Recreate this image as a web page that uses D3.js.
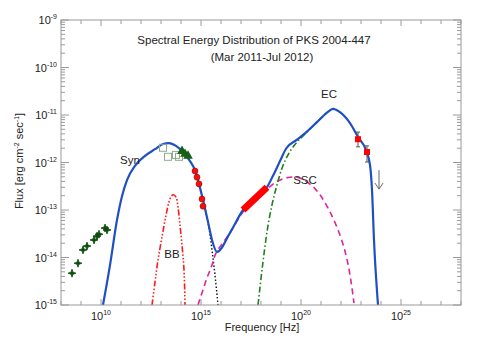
<!DOCTYPE html>
<html>
<head>
<meta charset="utf-8">
<script src="https://cdn.jsdelivr.net/npm/d3@7"></script>
<style>
  body { margin: 0; background: #fff; }
  svg text { font-family: "Liberation Sans", Arial, Helvetica, sans-serif; fill: #222; }
</style>
</head>
<body>
<div id="wrapper"></div>
<script>
// data, as [log10 nu (Hz), log10 flux (erg cm^-2 s^-1)]
const totalModel = [
  [10.10, -15.0], [10.45, -14.16], [10.80, -13.21], [11.05, -12.71], [11.30, -12.37],
  [11.70, -12.07], [12.20, -11.86], [12.70, -11.72], [13.10, -11.61], [13.40, -11.59],
  [13.75, -11.65], [14.10, -11.78], [14.45, -11.97], [14.70, -12.16], [14.90, -12.45],
  [15.10, -12.79], [15.35, -13.25], [15.55, -13.63], [15.80, -13.88], [16.45, -13.48],
  [17.10, -13.00], [17.70, -12.73], [18.30, -12.52], [18.60, -12.28], [18.95, -11.97],
  [19.25, -11.71], [19.80, -11.52], [20.30, -11.35], [20.80, -11.15], [21.30, -10.95],
  [21.60, -10.87], [21.95, -10.94], [22.45, -11.17], [22.85, -11.46], [23.25, -11.74],
  [23.45, -12.05], [23.55, -12.58], [23.65, -13.63], [23.85, -15.0]
];
const sscModel = [
  [14.85, -15.0], [15.10, -14.68], [15.30, -14.43], [15.55, -14.16], [15.75, -13.91],
  [16.45, -13.48], [17.10, -13.04], [17.70, -12.77], [18.30, -12.56], [18.85, -12.39],
  [19.45, -12.31], [19.95, -12.33], [20.55, -12.49], [20.95, -12.68], [21.45, -13.04],
  [21.95, -13.53], [22.25, -13.95], [22.45, -14.37], [22.65, -14.96]
];
const ecModel = [
  [17.85, -15.0], [18.10, -14.09], [18.30, -13.46], [18.55, -12.89], [18.80, -12.47],
  [19.05, -12.12], [19.35, -11.84], [19.70, -11.62], [20.20, -11.40], [20.80, -11.15],
  [21.30, -10.95]
];
const bbModel = [
  [12.55, -15.0], [12.70, -14.52], [12.85, -14.05], [13.05, -13.57], [13.25, -13.11],
  [13.45, -12.77], [13.60, -12.68], [13.75, -12.73], [13.85, -12.94], [13.95, -13.32],
  [14.05, -13.74], [14.15, -14.26], [14.20, -15.0]
];
const synTail = [
  [15.10, -12.79], [15.20, -12.96], [15.40, -13.38], [15.55, -13.84], [15.70, -14.37], [15.85, -15.0]
];
const radioPoints = [
  [8.55, -14.33], [8.85, -14.12], [9.10, -13.84], [9.30, -13.76], [9.65, -13.63],
  [9.80, -13.55], [9.90, -13.51], [10.20, -13.38], [10.30, -13.42]
];
const irOpen = [[13.10, -11.69], [13.35, -11.88], [13.75, -11.84], [13.90, -11.88]];
const irTriangles = [[14.05, -11.76], [14.20, -11.82], [14.35, -11.86]];
const optUV = [[14.70, -12.18], [14.80, -12.31], [14.90, -12.45], [15.05, -12.77], [15.10, -12.92]];
const xrayBand = [[17.10, -13.00], [18.30, -12.52]];
const fermi = [
  { nu: 22.85, f: -11.51, lo: -11.67, hi: -11.36 },
  { nu: 23.30, f: -11.78, lo: -11.99, hi: -11.65 }
];
const upperLimit = { nu: 23.90, from: -12.16, to: -12.56 };
const labels = [
  { text: "Syn", nu: 11.45, f: -11.95 },
  { text: "BB", nu: 13.55, f: -13.92 },
  { text: "SSC", nu: 20.20, f: -12.37 },
  { text: "EC", nu: 21.40, f: -10.55 }
];
const yExponents = [-9, -10, -11, -12, -13, -14, -15];
const xExponents = [10, 15, 20, 25];

// layout
const width = 480, height = 343;
const margin = { top: 20, right: 19, bottom: 38, left: 61 };
const axisColor = "#9a9a9a";

const svg = d3.select("#wrapper").append("svg")
  .attr("width", width).attr("height", height);

const x = d3.scaleLog().domain([1e8, 1e28]).range([margin.left, width - margin.right]);
const y = d3.scaleLog().domain([1e-15, 1e-9]).range([height - margin.bottom, margin.top]);
const px = d => x(Math.pow(10, d[0]));
const py = d => y(Math.pow(10, d[1]));

const plot = svg.append("g");

// axes box
const x0 = x.range()[0], x1 = x.range()[1], y0 = y.range()[0], y1 = y.range()[1];
const axes = svg.append("g").attr("stroke", axisColor).attr("fill", "none");
axes.append("rect").attr("x", x0).attr("y", y1).attr("width", x1 - x0).attr("height", y0 - y1);

// y ticks (major + log minor) on left and right
const yTicks = [];
for (let e = -15; e < -9; e++) {
  for (let m = 1; m < 10; m++) yTicks.push({ v: m * Math.pow(10, e), major: m === 1 });
}
yTicks.push({ v: 1e-9, major: true });
yTicks.forEach(t => {
  const len = t.major ? 8 : 4;
  axes.append("line").attr("x1", x0).attr("x2", x0 + len).attr("y1", y(t.v)).attr("y2", y(t.v));
  axes.append("line").attr("x1", x1).attr("x2", x1 - len).attr("y1", y(t.v)).attr("y2", y(t.v));
});

// x ticks on bottom and top
for (let e = 8; e <= 28; e++) {
  const len = e % 5 === 0 ? 6 : 4;
  const xv = x(Math.pow(10, e));
  axes.append("line").attr("x1", xv).attr("x2", xv).attr("y1", y0).attr("y2", y0 - len);
  axes.append("line").attr("x1", xv).attr("x2", xv).attr("y1", y1).attr("y2", y1 + len);
}

// tick labels
yExponents.forEach(e => {
  const t = svg.append("text")
    .attr("x", x0 - 4).attr("y", y(Math.pow(10, e)) + 4)
    .attr("text-anchor", "end").style("font-size", "11px");
  t.append("tspan").text("10");
  t.append("tspan").attr("dy", -5).style("font-size", "7px").text(String(e));
});
xExponents.forEach(e => {
  const t = svg.append("text")
    .attr("x", x(Math.pow(10, e))).attr("y", y0 + 15)
    .attr("text-anchor", "middle").style("font-size", "11px");
  t.append("tspan").text("10");
  t.append("tspan").attr("dy", -5).style("font-size", "7px").text(String(e));
});

// axis titles
svg.append("text").attr("x", 262).attr("y", 331).attr("text-anchor", "middle")
  .style("font-size", "11px").text("Frequency [Hz]");
const yl = svg.append("text")
  .attr("transform", "translate(23,161) rotate(-90)")
  .attr("text-anchor", "middle").style("font-size", "11px");
yl.append("tspan").text("Flux [erg cm");
yl.append("tspan").attr("dy", -4).style("font-size", "7px").text("-2");
yl.append("tspan").attr("dy", 4).text(" sec");
yl.append("tspan").attr("dy", -4).style("font-size", "7px").text("-1");
yl.append("tspan").attr("dy", 4).text("]");

// title
svg.append("text").attr("x", 254).attr("y", 44).attr("text-anchor", "middle")
  .style("font-size", "11.5px").text("Spectral Energy Distribution of PKS 2004-447");
svg.append("text").attr("x", 262).attr("y", 61).attr("text-anchor", "middle")
  .style("font-size", "11.5px").text("(Mar 2011-Jul 2012)");

// model curves
const line = d3.line().x(px).y(py).curve(d3.curveCatmullRom.alpha(0.5));
const smooth = d3.line().x(px).y(py).curve(d3.curveMonotoneX);
plot.append("path").datum(bbModel).attr("d", line)
  .attr("fill", "none").attr("stroke", "#ff1a1a").attr("stroke-width", 1.6)
  .attr("stroke-dasharray", "6,2,1.5,2,1.5,2,1.5,2");
plot.append("path").datum(synTail).attr("d", line)
  .attr("fill", "none").attr("stroke", "#111").attr("stroke-width", 1.4)
  .attr("stroke-dasharray", "1.5,2");
plot.append("path").datum(sscModel).attr("d", line)
  .attr("fill", "none").attr("stroke", "#e0239b").attr("stroke-width", 1.6)
  .attr("stroke-dasharray", "6,4");
plot.append("path").datum(ecModel).attr("d", smooth)
  .attr("fill", "none").attr("stroke", "#1f7f1f").attr("stroke-width", 1.6)
  .attr("stroke-dasharray", "6,2.5,1.5,2.5");

// total model: split at the sharp dip between the two humps
const dipIndex = d3.minIndex(totalModel.slice(0, 25), d => d[1]);
[totalModel.slice(0, dipIndex + 1), totalModel.slice(dipIndex)].forEach(part => {
  plot.append("path").datum(part).attr("d", smooth)
    .attr("fill", "none").attr("stroke", "#1f4fc4").attr("stroke-width", 2.2)
    .attr("stroke-linejoin", "round");
});

// X-ray band
plot.append("line")
  .attr("x1", px(xrayBand[0])).attr("y1", py(xrayBand[0]))
  .attr("x2", px(xrayBand[1])).attr("y2", py(xrayBand[1]))
  .attr("stroke", "#ff0000").attr("stroke-width", 7);

// radio points: four-pointed stars
const star4 = "M0,-4L1,-1L4,0L1,1L0,4L-1,1L-4,0L-1,-1Z";
plot.selectAll(".radio").data(radioPoints).join("path")
  .attr("class", "radio")
  .attr("transform", d => `translate(${px(d)},${py(d)})`)
  .attr("d", star4).attr("fill", "#0c4d0c").attr("stroke", "#0c4d0c").attr("stroke-width", 0.8);

// IR open squares
plot.selectAll(".irsq").data(irOpen).join("rect")
  .attr("class", "irsq")
  .attr("x", d => px(d) - 3.5).attr("y", d => py(d) - 3.5)
  .attr("width", 7).attr("height", 7)
  .attr("fill", "none").attr("stroke", "#8daa8d").attr("stroke-width", 1);

// IR triangles
plot.selectAll(".irtri").data(irTriangles).join("path")
  .attr("class", "irtri")
  .attr("transform", d => `translate(${px(d)},${py(d)})`)
  .attr("d", d3.symbol(d3.symbolTriangle, 40)).attr("fill", "#175f17");

// optical/UV circles
plot.selectAll(".opt").data(optUV).join("circle")
  .attr("class", "opt")
  .attr("cx", px).attr("cy", py).attr("r", 3)
  .attr("fill", "#ee1111").attr("stroke", "#aa0000").attr("stroke-width", 0.6);

// Fermi points with error bars
const fg = plot.selectAll(".fermi").data(fermi).join("g").attr("class", "fermi");
fg.append("line")
  .attr("x1", d => x(Math.pow(10, d.nu))).attr("x2", d => x(Math.pow(10, d.nu)))
  .attr("y1", d => y(Math.pow(10, d.lo))).attr("y2", d => y(Math.pow(10, d.hi)))
  .attr("stroke", "#555").attr("stroke-width", 1);
["lo", "hi"].forEach(k => {
  fg.append("line")
    .attr("x1", d => x(Math.pow(10, d.nu)) - 2).attr("x2", d => x(Math.pow(10, d.nu)) + 2)
    .attr("y1", d => y(Math.pow(10, d[k]))).attr("y2", d => y(Math.pow(10, d[k])))
    .attr("stroke", "#555").attr("stroke-width", 1);
});
fg.append("rect")
  .attr("x", d => x(Math.pow(10, d.nu)) - 3).attr("y", d => y(Math.pow(10, d.f)) - 3)
  .attr("width", 6).attr("height", 6).attr("fill", "#ff0000");

// upper limit arrow
const ux = x(Math.pow(10, upperLimit.nu));
const uy0 = y(Math.pow(10, upperLimit.from)), uy1 = y(Math.pow(10, upperLimit.to));
plot.append("path")
  .attr("d", `M${ux},${uy0}L${ux},${uy1}M${ux - 4},${uy1 - 6}L${ux},${uy1}L${ux + 4},${uy1 - 6}`)
  .attr("fill", "none").attr("stroke", "#666").attr("stroke-width", 1);

// component labels
plot.selectAll(".lbl").data(labels).join("text")
  .attr("class", "lbl")
  .attr("x", d => x(Math.pow(10, d.nu))).attr("y", d => y(Math.pow(10, d.f)) + 4)
  .attr("text-anchor", "middle").style("font-size", "11.5px")
  .text(d => d.text);
</script>
</body>
</html>
